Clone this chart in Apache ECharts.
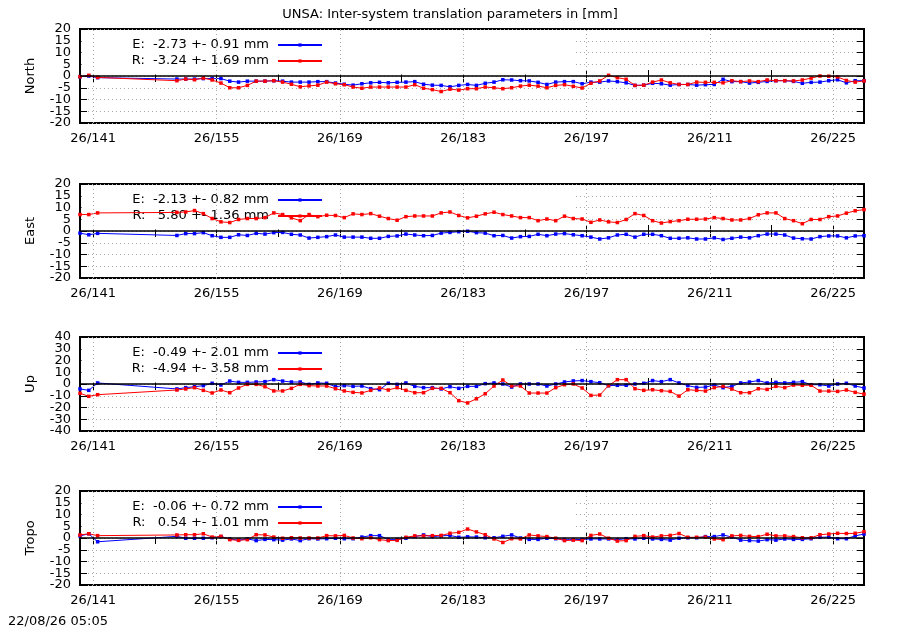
<!DOCTYPE html>
<html>
<head>
<meta charset="utf-8">
<script src="https://cdn.jsdelivr.net/npm/echarts@6/dist/echarts.min.js"></script>
<style>html,body{margin:0;padding:0;background:#fff}#c{width:900px;height:630px}</style>
</head>
<body>
<div id="c"></div>
<script>
const titleText = 'UNSA: Inter-system translation parameters in [mm]';
const stampText = '22/08/26 05:05';
const panelNames = ['North', 'East', 'Up', 'Tropo'];
const legendE = ['E:  -2.73 +- 0.91 mm', 'E:  -2.13 +- 0.82 mm', 'E:  -0.49 +- 2.01 mm', 'E:  -0.06 +- 0.72 mm'];
const legendR = ['R:  -3.24 +- 1.69 mm', 'R:   5.80 +- 1.36 mm', 'R:  -4.94 +- 3.58 mm', 'R:   0.54 +- 1.01 mm'];
const yLimits = [20, 20, 40, 20];
const ySteps = [5, 5, 10, 5];
const yOddLabels = [[15, 5, -5, -15], [15, 5, -5, -15], [30, 10, -10, -30], [15, 5, -5, -15]];
const majorTicks = [141, 155, 169, 183, 197, 211, 225];
const allTicks = [141, 148, 155, 162, 169, 176, 183, 190, 197, 204, 211, 218, 225];
const dayCenters = [139.5,140.5,141.5,150.5,151.5,152.5,153.5,154.5,155.5,156.5,157.5,158.5,159.5,160.5,161.5,162.5,163.5,164.5,165.5,166.5,167.5,168.5,169.5,170.5,171.5,172.5,173.5,174.5,175.5,176.5,177.5,178.5,179.5,180.5,181.5,182.5,183.5,184.5,185.5,186.5,187.5,188.5,189.5,190.5,191.5,192.5,193.5,194.5,195.5,196.5,197.5,198.5,199.5,200.5,201.5,202.5,203.5,204.5,205.5,206.5,207.5,208.5,209.5,210.5,211.5,212.5,213.5,214.5,215.5,216.5,217.5,218.5,219.5,220.5,221.5,222.5,223.5,224.5,225.5,226.5,227.5,228.5];

const northE = [-0.3, 0.0, -0.7,
 -1.3, -1.3, -1.3, -1.1, -1.1, -1.1, -2.2, -2.6, -2.2, -2.2,
 -2.2, -2.0, -2.2, -2.6, -2.6, -2.6, -2.4, -2.4, -3.0, -3.5,
 -3.9, -3.3, -2.9, -2.7, -2.9, -2.7, -2.6, -2.4, -3.5, -3.9,
 -4.0, -4.6, -4.0, -3.6, -4.0, -3.1, -2.6, -1.6, -1.7, -2.0,
 -2.1, -2.7, -3.6, -2.6, -2.4, -2.4, -3.3, -2.6, -2.6, -2.1,
 -2.4, -2.9, -4.0, -3.9, -3.1, -3.3, -3.9, -3.6, -3.6, -3.9,
 -3.7, -3.6, -1.4, -2.4, -2.4, -3.0, -2.7, -2.3, -2.0, -2.0,
 -2.3, -3.1, -2.7, -2.6, -2.0, -1.6, -2.9, -2.0, -2.0];
const northR = [-0.3, 0.3, -0.6,
 -2.0, -1.3, -1.6, -0.9, -1.7, -3.0, -5.0, -5.0, -4.0, -2.2,
 -2.2, -2.0, -2.6, -3.5, -4.6, -4.2, -3.9, -2.6, -3.3, -3.7,
 -4.7, -5.2, -4.7, -4.7, -4.7, -4.7, -4.7, -3.7, -5.2, -5.8,
 -6.6, -5.6, -6.0, -5.4, -5.4, -4.7, -5.0, -5.4, -5.0, -4.3,
 -3.9, -4.3, -5.0, -4.0, -3.7, -4.4, -5.1, -3.1, -2.1, 0.3,
 -0.7, -1.4, -4.0, -3.9, -2.6, -1.7, -2.9, -3.6, -3.6, -2.6,
 -2.7, -2.7, -2.9, -2.0, -2.4, -2.1, -2.4, -1.7, -2.0, -2.0,
 -2.1, -1.7, -0.9, 0.0, -0.1, -0.4, -1.9, -2.6, -2.1];
const eastE = [-0.9, -1.6, -1.0,
 -1.9, -1.1, -1.1, -0.7, -2.0, -2.7, -2.7, -1.6, -1.9, -1.0,
 -1.3, -0.7, -0.6, -1.4, -1.7, -3.0, -2.7, -2.4, -1.7, -2.6,
 -2.6, -2.6, -3.1, -3.1, -2.3, -2.1, -1.3, -1.7, -2.0, -1.9,
 -0.9, -0.6, -0.3, -0.1, -0.7, -0.9, -2.0, -1.9, -3.0, -2.4,
 -2.3, -1.4, -2.0, -1.3, -1.1, -1.6, -2.0, -2.6, -3.4, -2.9,
 -1.7, -1.4, -2.6, -1.4, -1.4, -2.0, -3.1, -3.1, -2.9, -3.4,
 -3.4, -2.9, -3.6, -3.1, -2.6, -2.9, -2.0, -1.3, -1.3, -1.7,
 -3.0, -3.3, -3.4, -2.4, -2.1, -2.1, -2.9, -2.1, -2.0];
const eastR = [7.0, 7.0, 7.7,
 7.9, 8.1, 8.7, 7.4, 5.3, 3.9, 3.6, 4.9, 5.3, 5.3,
 5.7, 7.7, 7.0, 5.6, 4.4, 7.0, 6.1, 6.7, 6.6, 5.7,
 7.3, 7.0, 7.4, 6.3, 5.3, 4.6, 6.1, 6.4, 6.4, 6.4,
 7.7, 8.1, 6.6, 5.6, 6.3, 7.3, 8.0, 7.0, 6.4, 5.7,
 5.7, 4.4, 5.1, 4.4, 6.3, 5.3, 5.1, 3.7, 4.7, 3.9,
 3.6, 4.9, 7.4, 6.6, 4.4, 3.4, 4.0, 4.4, 5.0, 5.0,
 5.1, 5.7, 5.3, 4.7, 4.7, 5.3, 6.9, 7.7, 7.7, 5.3,
 4.4, 3.1, 4.9, 4.9, 6.1, 6.4, 7.6, 8.6, 9.1];
const upE = [-4.2, -5.4, 0.9,
 -4.2, -3.1, -2.3, -1.4, 0.6, -0.8, 2.5, 1.4, 1.4, 1.7,
 2.0, 3.7, 2.5, 1.7, 1.7, -0.3, 0.9, 0.6, -2.3, -1.4,
 -2.0, -1.7, -4.0, -4.8, 0.6, -0.3, 0.9, -2.0, -3.1, -3.1,
 -4.2, -2.3, -3.7, -2.0, -2.0, 0.3, 0.9, 0.0, -2.6, 0.0,
 0.0, 0.0, -1.7, 0.0, 1.7, 2.6, 2.9, 2.0, 1.1, -1.4,
 -1.1, -1.1, 0.0, 0.6, 2.9, 2.0, 3.7, 0.9, -1.4, -2.9,
 -2.6, -0.9, -3.1, -2.0, 0.9, 1.7, 2.9, 0.9, 1.4, 0.9,
 1.4, 2.0, -0.6, -0.6, -1.7, 0.0, 0.6, -1.7, -3.4];
const upR = [-7.9, -10.5, -9.1,
 -5.1, -4.2, -3.1, -5.4, -7.6, -5.1, -7.4, -3.4, -0.3, -0.3,
 -2.3, -5.9, -5.9, -3.7, -0.3, -1.4, -1.7, -1.7, -4.0, -5.9,
 -7.1, -7.6, -5.4, -3.4, -5.1, -3.1, -5.4, -7.4, -7.4, -3.7,
 -3.7, -7.4, -14.2, -16.1, -12.6, -8.3, -1.7, 3.4, -1.7, -1.7,
 -7.7, -7.7, -7.7, -3.1, -0.6, 0.0, -3.4, -9.7, -9.4, -1.4,
 3.7, 3.7, -4.0, -5.4, -4.9, -5.7, -6.3, -10.3, -4.9, -5.4,
 -6.0, -3.1, -2.0, -4.3, -7.4, -7.4, -4.0, -4.6, -2.0, -3.1,
 -0.9, -1.1, -1.1, -6.0, -6.0, -6.3, -5.1, -7.1, -8.6];
const tropoE = [0.9, 1.8, -1.6,
 0.7, -0.1, -0.1, -0.1, 0.1, 0.6, -0.4, -0.9, -0.4, -1.1,
 -0.6, -0.7, -0.9, -0.4, -1.1, -0.3, -0.4, -0.3, -0.1, -0.3,
 -0.3, 0.4, 1.0, 1.0, -0.6, -0.6, -0.1, 0.6, 1.3, 0.6,
 0.9, 1.1, 0.3, 0.5, 0.4, 0.1, 0.1, 0.7, 1.3, 0.0,
 -0.6, -0.6, -0.1, -0.3, -0.7, -0.7, -0.6, -0.4, -0.4, -0.4,
 -0.7, -0.3, -0.4, -0.1, -0.4, -0.6, -0.9, -0.1, 0.1, 0.1,
 0.6, 0.6, 1.3, 0.4, -0.9, -1.1, -1.3, -0.7, -0.9, -0.4,
 -0.6, -0.6, -0.3, 0.3, 0.4, -0.3, -0.3, 0.9, 1.7];
const tropoR = [1.3, 1.8, 1.0,
 1.3, 1.4, 1.4, 1.8, 0.4, 0.7, -0.7, -1.0, -0.7, 1.4,
 1.3, 0.4, -0.1, 0.1, 0.0, 0.0, 0.0, 1.0, 0.9, 1.1,
 0.0, -0.3, 0.1, -0.7, -1.1, -1.0, 0.3, 0.9, 0.9, 1.0,
 1.1, 2.0, 2.4, 3.8, 2.6, 1.4, -0.4, -1.9, -0.3, -0.4,
 1.3, 0.9, 0.6, -0.1, -1.1, -0.9, -1.1, 1.1, 1.7, -0.1,
 -1.3, -1.1, 0.7, 1.0, 0.4, 0.9, 1.1, 1.9, 0.3, 0.3,
 0.4, -0.4, -0.7, 0.9, 1.1, 0.7, 0.6, 1.6, 0.9, 0.9,
 0.6, 0.1, 0.1, 1.4, 1.7, 2.0, 1.9, 2.0, 2.7];

const seriesE = [northE, eastE, upE, tropoE];
const seriesR = [northR, eastR, upR, tropoR];

// layout
const FONT = '"DejaVu Sans", "Liberation Sans", sans-serif';
const gridLeft = 80, gridRight = 864, gridH = 94;
const gridTops = [29, 184, 337, 491];
const keyBoxRight = 573;
const xMin = 139.5, xMax = 228.5;
const yLabelStyle = { color: '#000', fontSize: 13, fontFamily: FONT, margin: 9,
  showMinLabel: true, showMaxLabel: true };

const grids = [], xAxes = [], yAxes = [], series = [], legends = [], graphics = [];
gridTops.forEach((top, p) => {
  grids.push({ left: gridLeft, width: gridRight - gridLeft, top: top, height: gridH,
    show: true, borderColor: '#000', borderWidth: 2, backgroundColor: 'transparent' });
  xAxes.push({ type: 'value', gridIndex: p, position: 'bottom', min: xMin, max: xMax,
    axisLine: { show: false },
    axisTick: { show: true, inside: true, length: 6, customValues: allTicks, lineStyle: { color: '#000', width: 1 } },
    axisLabel: { show: true, customValues: majorTicks, formatter: v => '26/' + v, color: '#000',
      fontSize: 13, fontFamily: FONT, margin: 9 },
    splitLine: { show: false } });
  xAxes.push({ type: 'value', gridIndex: p, position: 'top', min: xMin, max: xMax,
    axisLine: { show: false },
    axisTick: { show: true, inside: true, length: 6, customValues: allTicks, lineStyle: { color: '#000', width: 1 } },
    axisLabel: { show: false }, splitLine: { show: false } });
  const lim = yLimits[p], st = ySteps[p];
  // main left axis: ticks, grid lines, name
  yAxes.push({ type: 'value', gridIndex: p, position: 'left', min: -lim, max: lim, interval: st,
    name: panelNames[p], nameLocation: 'middle', nameGap: 43,
    nameTextStyle: { color: '#000', fontSize: 13, fontFamily: FONT },
    axisLine: { show: false },
    axisTick: { show: true, inside: true, length: 7, lineStyle: { color: '#000' } },
    axisLabel: { show: false },
    splitLine: { show: true, lineStyle: { color: '#a8a8a8', type: [1, 3], width: 1 } } });
  // left labels, even positions
  yAxes.push({ type: 'value', gridIndex: p, position: 'left', min: -lim, max: lim, interval: 2 * st,
    axisLine: { show: false }, axisTick: { show: false }, splitLine: { show: false },
    axisLabel: yLabelStyle });
  // left labels, odd positions
  yAxes.push({ type: 'value', gridIndex: p, position: 'left', min: -lim, max: lim, interval: 2 * st,
    axisLine: { show: false }, axisTick: { show: false }, splitLine: { show: false },
    axisLabel: Object.assign({ customValues: yOddLabels[p] }, yLabelStyle) });
  // right mirror ticks
  yAxes.push({ type: 'value', gridIndex: p, position: 'right', min: -lim, max: lim, interval: st,
    axisLine: { show: false },
    axisTick: { show: true, inside: true, length: 7, lineStyle: { color: '#000' } },
    axisLabel: { show: false }, splitLine: { show: false } });

  const yi = 4 * p;
  const dataE = dayCenters.map((x, i) => [x, seriesE[p][i]]);
  const dataR = dayCenters.map((x, i) => [x, seriesR[p][i]]);
  series.push({ type: 'line', xAxisIndex: 2 * p, yAxisIndex: yi, data: dataE, z: 1, silent: true,
    showSymbol: false, symbol: 'none', lineStyle: { opacity: 0 }, animation: false,
    markLine: { silent: true, symbol: 'none', animation: false, label: { show: false },
      data: majorTicks.map(v => ({ xAxis: v, lineStyle: { color: '#a8a8a8', type: [1, 3], width: 1 } }))
        .concat([{ yAxis: 0, lineStyle: { color: '#000', type: 'solid', width: 1.5 } }]) } });
  series.push({ name: legendE[p], type: 'line', xAxisIndex: 2 * p, yAxisIndex: yi, data: dataE, z: 3,
    symbol: 'rect', symbolSize: 3.5, showSymbol: true, color: '#0000ff',
    itemStyle: { color: '#0000ff' }, lineStyle: { color: '#0000ff', width: 1 }, animation: false });
  series.push({ name: legendR[p], type: 'line', xAxisIndex: 2 * p, yAxisIndex: yi, data: dataR, z: 3,
    symbol: 'rect', symbolSize: 3.5, showSymbol: true, color: '#ff0000',
    itemStyle: { color: '#ff0000' }, lineStyle: { color: '#ff0000', width: 1 }, animation: false });
  legends.push({ data: [legendE[p], legendR[p]], orient: 'vertical', align: 'right',
    right: 900 - 323, top: top + 8, itemWidth: 44, itemHeight: 4, itemGap: 0, padding: 0,
    selectedMode: false, z: 2,
    textStyle: { color: '#000', fontSize: 13, fontFamily: FONT, lineHeight: 16, padding: [0, 4, 0, 0] } });
  graphics.push({ type: 'rect', z: 2, silent: true,
    shape: { x: gridLeft + 1.5, y: top + 1.5, width: keyBoxRight - gridLeft - 1.5, height: gridH / 2 - 3 },
    style: { fill: '#ffffff' } });
});
graphics.push({ type: 'text', left: 8, top: 615, z: 5,
  style: { text: stampText, fill: '#000', font: '13px ' + FONT } });

const chart = echarts.init(document.getElementById('c'), null, { renderer: 'canvas' });
chart.setOption({
  animation: false,
  backgroundColor: '#fff',
  title: { text: titleText, left: 'center', top: 3,
    textStyle: { color: '#000', fontSize: 13, fontWeight: 'normal', fontFamily: FONT } },
  grid: grids, xAxis: xAxes, yAxis: yAxes, series: series, legend: legends, graphic: graphics
});
</script>
</body>
</html>
